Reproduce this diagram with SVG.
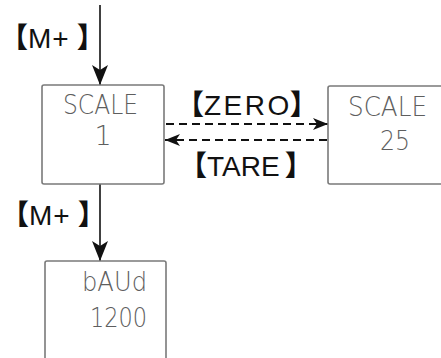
<svg xmlns="http://www.w3.org/2000/svg" width="441" height="358" viewBox="0 0 441 358">
<defs>
<style>
.box{fill:#fff;stroke:#7a7a7a;stroke-width:1.6}
.lcd{font-family:"DejaVu Sans","Liberation Sans",sans-serif;font-weight:200;fill:#5e5e5e;font-size:27px}
.key{font-family:"Liberation Sans","Noto Sans CJK SC",sans-serif;font-size:28px;fill:#111}
.br{font-family:"Noto Sans CJK SC","Noto Sans CJK JP",sans-serif;font-weight:900;font-size:28px;letter-spacing:0}
.solid{stroke:#111;stroke-width:1.6;fill:none}
.dash{stroke:#111;stroke-width:2;stroke-dasharray:8 5;fill:none}
</style>
<marker id="ahv" viewBox="0 0 16 20" refX="8" refY="20" markerWidth="16" markerHeight="20" markerUnits="userSpaceOnUse" orient="0">
<path d="M0,0 L8,5 L16,0 L8,20 Z" fill="#111"/>
</marker>
<marker id="ahh" viewBox="0 0 15 12" refX="15" refY="6" markerWidth="15" markerHeight="12" markerUnits="userSpaceOnUse" orient="auto">
<path d="M0,0 L15,6 L0,12 L4,6 Z" fill="#111"/>
</marker>
</defs>
<rect width="441" height="358" fill="#fff"/>
<g id="connectors">
<line class="solid" x1="100" y1="5" x2="100" y2="85" marker-end="url(#ahv)"/>
<line class="solid" x1="100" y1="184" x2="100" y2="261" marker-end="url(#ahv)"/>
<line class="dash" x1="166" y1="124" x2="328" y2="124" marker-end="url(#ahh)"/>
<line class="dash" x1="327" y1="140" x2="165" y2="140" marker-end="url(#ahh)"/>
<text class="key" x="0" y="48"><tspan class="br" letter-spacing="-5">【</tspan><tspan letter-spacing="1">M+</tspan><tspan class="br" dx="7">】</tspan></text>
<text class="key" x="1" y="225"><tspan class="br" letter-spacing="-5">【</tspan><tspan letter-spacing="1">M+</tspan><tspan class="br" dx="7">】</tspan></text>
<text class="key" x="176" y="115"><tspan class="br" letter-spacing="-1">【</tspan><tspan letter-spacing="2.5">ZERO</tspan><tspan class="br" dx="-2">】</tspan></text>
<text class="key" x="179" y="176"><tspan class="br" letter-spacing="3">【</tspan>TARE<tspan class="br" dx="5">】</tspan></text>
</g>
<g id="node-scale1">
<rect class="box" x="42" y="85" width="122" height="99" rx="2"/>
<text class="lcd" x="63" y="114" textLength="75" lengthAdjust="spacingAndGlyphs">SCALE</text>
<text class="lcd" x="103" y="145" text-anchor="middle">1</text>
</g>
<g id="node-scale25">
<rect class="box" x="328" y="86" width="116" height="98" rx="2"/>
<text class="lcd" x="348" y="116" textLength="79" lengthAdjust="spacingAndGlyphs">SCALE</text>
<text class="lcd" x="380" y="150" textLength="30" lengthAdjust="spacingAndGlyphs">25</text>
</g>
<g id="node-baud">
<rect class="box" x="45" y="261" width="121" height="110" rx="2"/>
<text class="lcd" x="82" y="291" textLength="65" lengthAdjust="spacingAndGlyphs">bAUd</text>
<text class="lcd" x="90" y="327" textLength="57" lengthAdjust="spacingAndGlyphs">1200</text>
</g>
</svg>
